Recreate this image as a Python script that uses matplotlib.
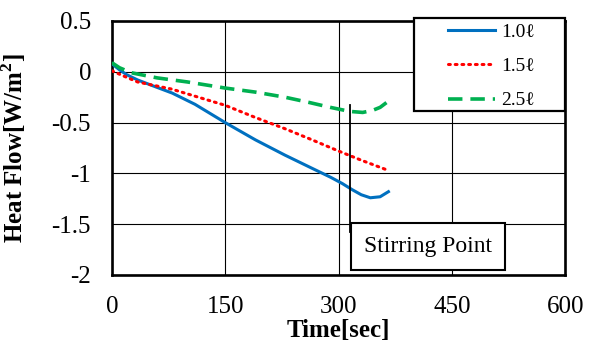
import matplotlib
matplotlib.use("Agg")
import matplotlib.pyplot as plt
from matplotlib.patches import Rectangle

plt.rcParams['font.family'] = ['Liberation Serif', 'DejaVu Serif']
plt.rcParams['mathtext.fontset'] = 'custom'
plt.rcParams['mathtext.rm'] = 'Liberation Serif'
plt.rcParams['mathtext.bf'] = 'Liberation Serif:bold'

# 読み取ったデータ (time[sec], heat flow[W/m2])
t_10 = [0, 10, 20, 34, 55, 80, 110, 150, 190, 229, 265, 290, 305, 318, 330, 342, 355, 366]
q_10 = [0.08, 0.02, -0.03, -0.08, -0.14, -0.21, -0.32, -0.50, -0.67, -0.82,
        -0.95, -1.04, -1.10, -1.16, -1.21, -1.24, -1.23, -1.18]

t_15 = [0, 15, 34, 79, 110, 150, 190, 229, 265, 300, 330, 362]
q_15 = [0.01, -0.04, -0.10, -0.17, -0.24, -0.33, -0.45, -0.56, -0.67, -0.78, -0.87, -0.96]

t_25 = [0, 10, 26, 60, 100, 150, 190, 229, 260, 289, 315, 332, 345, 355, 364]
q_25 = [0.09, 0.04, -0.01, -0.06, -0.10, -0.16, -0.20, -0.25, -0.30, -0.35,
        -0.39, -0.40, -0.38, -0.35, -0.30]

labels = ['1.0ℓ', '1.5ℓ', '2.5ℓ']
x_ticks = [0, 150, 300, 450, 600]
y_ticks = [0.5, 0, -0.5, -1, -1.5, -2]
y_tick_labels = ['0.5', '0', '-0.5', '-1', '-1.5', '-2']

stir_t = 315
stir_top, stir_bottom = -0.33, -1.58

fig = plt.figure(figsize=(5.95, 3.47), dpi=100)
ax = fig.add_axes([0.188, 0.2075, 0.762, 0.732])

ax.plot(t_10, q_10, color='#0070C0', lw=2.2, label=labels[0], zorder=3)
ax.plot(t_15, q_15, color='#FF0000', lw=2.2, ls=(0, (0.6, 1.6)),
        dash_capstyle='round', label=labels[1], zorder=3)
ax.plot(t_25, q_25, color='#00B050', lw=2.6, ls=(0, (4, 2.2)), label=labels[2], zorder=3)

ax.set_xlim(0, 600)
ax.set_ylim(-2, 0.5)
ax.set_xticks(x_ticks)
ax.set_yticks(y_ticks)
ax.set_yticklabels(y_tick_labels)
ax.tick_params(length=0, labelsize=18, pad=15)
ax.grid(True, color='black', lw=0.8)
ax.set_axisbelow(True)
for s in ax.spines.values():
    s.set_linewidth(1.9)

ax.set_xlabel('Time[sec]', fontsize=18, fontweight='bold')
ax.set_ylabel(r'Heat Flow[W/m$^\mathbf{2}$]', fontsize=18, fontweight='bold')
ax.xaxis.set_label_coords(0.5, -0.175)
ax.yaxis.set_label_coords(-0.185, 0.5)

# 撹拌点
ax.plot([stir_t, stir_t], [stir_top, stir_bottom], color='black', lw=1.3, zorder=4)
ax.text(418.5, -1.72, 'Stirring Point', fontsize=17, ha='center', va='center', zorder=5,
        bbox=dict(boxstyle='square,pad=0.55', fc='white', ec='black', lw=1.5))

# 凡例の枠
frame = Rectangle((0.667, 0.646), 0.333, 0.366, transform=ax.transAxes,
                  fc='white', ec='black', lw=1.6, zorder=6, clip_on=False)
ax.add_patch(frame)
leg = ax.legend(loc='upper left', bbox_to_anchor=(0.742, 0.99), frameon=False,
                fontsize=14, handlelength=2.4, handletextpad=0.3, labelspacing=0.85,
                borderpad=0, borderaxespad=0)
leg.set_zorder(7)

fig.savefig('out.png', dpi=100)
